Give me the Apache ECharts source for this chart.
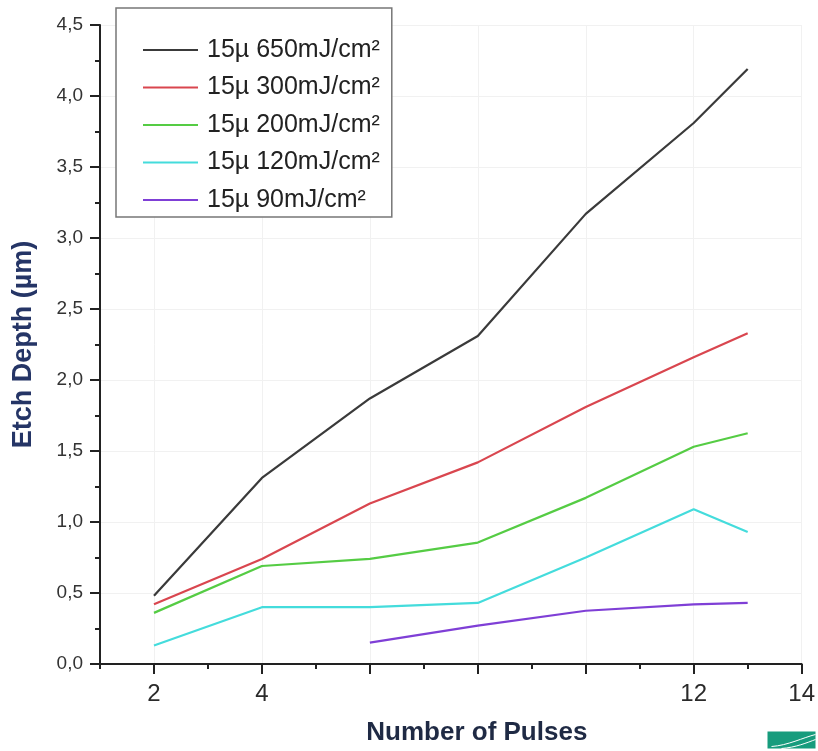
<!DOCTYPE html>
<html>
<head>
<meta charset="utf-8">
<title>Etch Depth vs Number of Pulses</title>
<script src="https://cdn.jsdelivr.net/npm/echarts@6/dist/echarts.min.js"></script>
<style>
  html, body { margin: 0; padding: 0; background: #fff; }
  #main { width: 818px; height: 751px; }
</style>
</head>
<body>
<div id="main"></div>
<script>
// pulse counts
var pulsesFull = [2, 4, 6, 8, 10, 12, 13];
var pulsesLow = [6, 8, 10, 12, 13];

// etch depth in µm
var depth650 = [0.48, 1.31, 1.87, 2.31, 3.17, 3.81, 4.19];
var depth300 = [0.42, 0.74, 1.13, 1.42, 1.81, 2.16, 2.33];
var depth200 = [0.36, 0.69, 0.74, 0.855, 1.17, 1.53, 1.625];
var depth120 = [0.13, 0.40, 0.40, 0.43, 0.75, 1.09, 0.93];
var depth90 = [0.15, 0.27, 0.375, 0.42, 0.43];

var seriesNames = ['15µ 650mJ/cm²', '15µ 300mJ/cm²', '15µ 200mJ/cm²', '15µ 120mJ/cm²', '15µ 90mJ/cm²'];
var seriesColors = ['#3a3a3a', '#d9464f', '#55cc44', '#44dcdc', '#7f3fd6'];

// x tick labels that show up in the picture
var xLabelValues = [2, 4, 12, 14];
var xMajorTicks = [2, 4, 6, 8, 10, 12, 14];

function pairs(xs, ys) {
    return xs.map(function (x, i) { return [x, ys[i]]; });
}

var seriesData = [
    pairs(pulsesFull, depth650),
    pairs(pulsesFull, depth300),
    pairs(pulsesFull, depth200),
    pairs(pulsesFull, depth120),
    pairs(pulsesLow, depth90)
];

var chart = echarts.init(document.getElementById('main'));

var option = {
    backgroundColor: '#fff',
    animation: false,
    grid: { left: 100, right: 11, top: 25, bottom: 82, containLabel: false },
    legend: {
        left: 116,
        top: 8,
        orient: 'vertical',
        padding: [28, 12, 3, 27],
        icon: 'rect',
        itemWidth: 55,
        itemHeight: 2,
        itemGap: 9.5,
        borderColor: '#777',
        borderWidth: 1.5,
        backgroundColor: '#fff',
        textStyle: {
            fontFamily: 'Liberation Sans, Arial, sans-serif',
            fontSize: 25,
            lineHeight: 28,
            color: '#222',
            padding: [0, 0, 0, 4]
        },
        data: seriesNames
    },
    xAxis: [{
        type: 'value',
        min: 1,
        max: 14,
        position: 'bottom',
        name: 'Number of Pulses',
        nameLocation: 'middle',
        nameGap: 56,
        nameTextStyle: {
            fontFamily: 'Liberation Sans, Arial, sans-serif',
            fontWeight: 'bold',
            fontSize: 26,
            color: '#1f2a44',
            padding: [0, 0, 0, 52]
        },
        axisLine: { show: true, onZero: false, lineStyle: { color: '#222', width: 2 } },
        axisTick: { show: true, customValues: xMajorTicks, length: 10, lineStyle: { color: '#222', width: 2 } },
        axisLabel: {
            customValues: xLabelValues,
            margin: 18,
            fontFamily: 'Liberation Sans, Arial, sans-serif',
            fontSize: 24,
            color: '#2a2a2a'
        },
        splitLine: { show: true, lineStyle: { color: '#f1f1f1', width: 1 } }
    }, {
        type: 'value',
        min: 1,
        max: 14,
        interval: 1,
        position: 'bottom',
        axisLine: { show: false },
        axisTick: { show: true, length: 5, lineStyle: { color: '#222', width: 2 } },
        axisLabel: { show: false },
        splitLine: { show: false }
    }],
    yAxis: {
        type: 'value',
        min: 0,
        max: 4.5,
        interval: 0.5,
        name: 'Etch Depth (µm)',
        nameLocation: 'middle',
        nameGap: 63,
        nameTextStyle: {
            fontFamily: 'Liberation Sans, Arial, sans-serif',
            fontWeight: 'bold',
            fontSize: 27,
            color: '#253566'
        },
        axisLine: { show: true, lineStyle: { color: '#222', width: 2 } },
        axisTick: { show: true, length: 10, lineStyle: { color: '#222', width: 2 } },
        minorTick: { show: true, splitNumber: 2, length: 5, lineStyle: { color: '#222', width: 2 } },
        axisLabel: {
            margin: 17,
            fontFamily: 'Liberation Sans, Arial, sans-serif',
            fontSize: 19,
            color: '#333',
            formatter: function (v) { return v.toFixed(1).replace('.', ','); }
        },
        splitLine: { show: true, lineStyle: { color: '#f1f1f1', width: 1 } }
    },
    series: seriesNames.map(function (name, i) {
        return {
            name: name,
            type: 'line',
            xAxisIndex: 0,
            data: seriesData[i],
            symbol: 'none',
            color: seriesColors[i],
            lineStyle: { width: 2.2, color: seriesColors[i] },
            z: 10 - i
        };
    }),
    graphic: [{
        type: 'group',
        right: 0,
        bottom: 0,
        children: [
            { type: 'rect', shape: { x: 0, y: 0, width: 48, height: 17 }, style: { fill: '#179c7d' } },
            { type: 'bezierCurve', shape: { x1: 4, y1: 15, x2: 48, y2: 3, cpx1: 20, cpy1: 14, cpx2: 36, cpy2: 6 }, style: { stroke: '#fff', lineWidth: 1, fill: null } },
            { type: 'bezierCurve', shape: { x1: 14, y1: 17, x2: 48, y2: 8, cpx1: 28, cpy1: 16, cpx2: 40, cpy2: 11 }, style: { stroke: '#fff', lineWidth: 1, fill: null } }
        ]
    }]
};

chart.setOption(option);
</script>
</body>
</html>
